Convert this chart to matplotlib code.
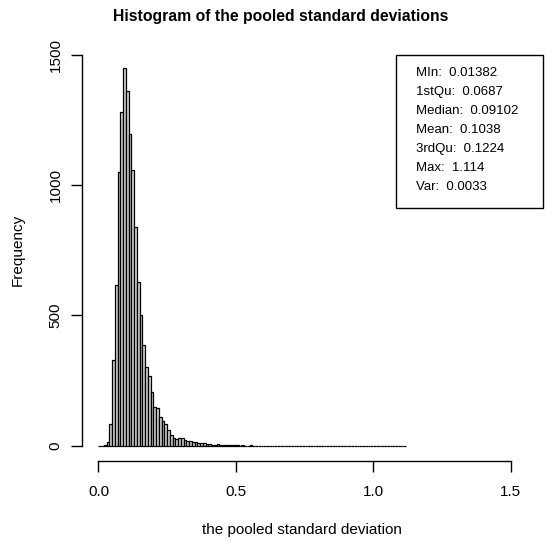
import numpy as np
import matplotlib
matplotlib.use("Agg")
import matplotlib.pyplot as plt

# ---- data ----
bin_width = 0.01
bin_start = 0.0
counts = [
    0, 1, 4, 16, 83, 329, 616, 1050, 1280, 1448,       # 0.00 - 0.09
    1362, 1197, 1056, 839, 629, 500, 387, 301, 266, 208,  # 0.10 - 0.19
    150, 145, 110, 97, 84, 61, 40, 30, 25, 32,          # 0.20 - 0.29
    30, 24, 20, 18, 15, 14, 12, 12, 10, 8,              # 0.30 - 0.39
    6, 5, 4, 6, 3, 4, 2, 3, 3, 2,                        # 0.40 - 0.49
    2, 1, 2, 1, 1, 2, 1, 1, 0, 1,                        # 0.50 - 0.59
    1, 0, 1, 0, 1, 0, 0, 1, 0, 0,                        # 0.60 - 0.69
    1, 0, 0, 0, 1, 0, 0, 0, 0, 0,                        # 0.70 - 0.79
    1, 0, 0, 0, 0, 0, 0, 0, 0, 0,                        # 0.80 - 0.89
    0, 0, 0, 0, 0, 0, 0, 0, 0, 0,                        # 0.90 - 0.99
    0, 0, 0, 0, 0, 0, 1, 0, 0, 0,                        # 1.00 - 1.09
    0, 1,                                                # 1.10 - 1.11
]
stat_names = ["MIn", "1stQu", "Median", "Mean", "3rdQu", "Max", "Var"]
stat_values = ["0.01382", "0.0687", "0.09102", "0.1038", "0.1224", "1.114", "0.0033"]
x_ticks = [0.0, 0.5, 1.0, 1.5]
x_tick_labels = ["0.0", "0.5", "1.0", "1.5"]
y_ticks = [0, 500, 1000, 1500]
y_tick_labels = ["0", "500", "1000", "1500"]

title = "Histogram of the pooled standard deviations"
xlabel = "the pooled standard deviation"
ylabel = "Frequency"

plt.rcParams['font.family'] = ['Liberation Sans', 'DejaVu Sans']

W, H = 547, 542
fig = plt.figure(figsize=(W / 100, H / 100), dpi=100)
ax = fig.add_axes([82 / W, 1 - 461 / H, 445 / W, (461 - 53) / H])

edges = bin_start + bin_width * np.arange(len(counts) + 1)
ax.bar(edges[:-1], counts, width=bin_width, align='edge',
       facecolor='#cfcfcf', edgecolor='black', linewidth=0.9)

ax.set_xlim(-0.06, 1.56)
ax.set_ylim(-58, 1506)

for s in ['top', 'right']:
    ax.spines[s].set_visible(False)
ax.spines['left'].set_bounds(0, 1500)
ax.spines['bottom'].set_bounds(0, 1.5)
ax.spines['left'].set_position(('data', -0.06))
ax.spines['bottom'].set_position(('data', -58))
ax.spines['left'].set_linewidth(1.0)
ax.spines['bottom'].set_linewidth(1.0)

ax.set_xticks(x_ticks)
ax.set_xticklabels(x_tick_labels, fontsize=11)
ax.set_yticks(y_ticks)
ax.set_yticklabels(y_tick_labels, fontsize=11, rotation=90, va='center')
ax.tick_params(axis='both', length=8, width=1.0, direction='out')
ax.tick_params(axis='x', pad=9)
ax.tick_params(axis='y', pad=6)

fig.text(302 / W, 1 - 530 / H, xlabel, fontsize=11, ha='center', va='center')
fig.text(18 / W, 1 - 250 / H, ylabel, fontsize=11, ha='center', va='center',
         rotation=90)
fig.text(281 / W, 1 - 16 / H, title, fontsize=11.3, fontweight='bold',
         ha='center', va='center')

# summary box
box_lines = [f"{n}:  {v}" for n, v in zip(stat_names, stat_values)]
bx0, by0, bx1, by1 = 396, 55, 543, 208
rect = plt.Rectangle((bx0 / W, 1 - by1 / H), (bx1 - bx0) / W, (by1 - by0) / H,
                     transform=fig.transFigure, fill=False, edgecolor='black',
                     linewidth=1.0)
fig.patches.append(rect)
for i, line in enumerate(box_lines):
    fig.text(416 / W, 1 - (73 + 19 * i) / H, line, fontsize=9.5,
             ha='left', va='center')

fig.savefig("out.png", dpi=100)
